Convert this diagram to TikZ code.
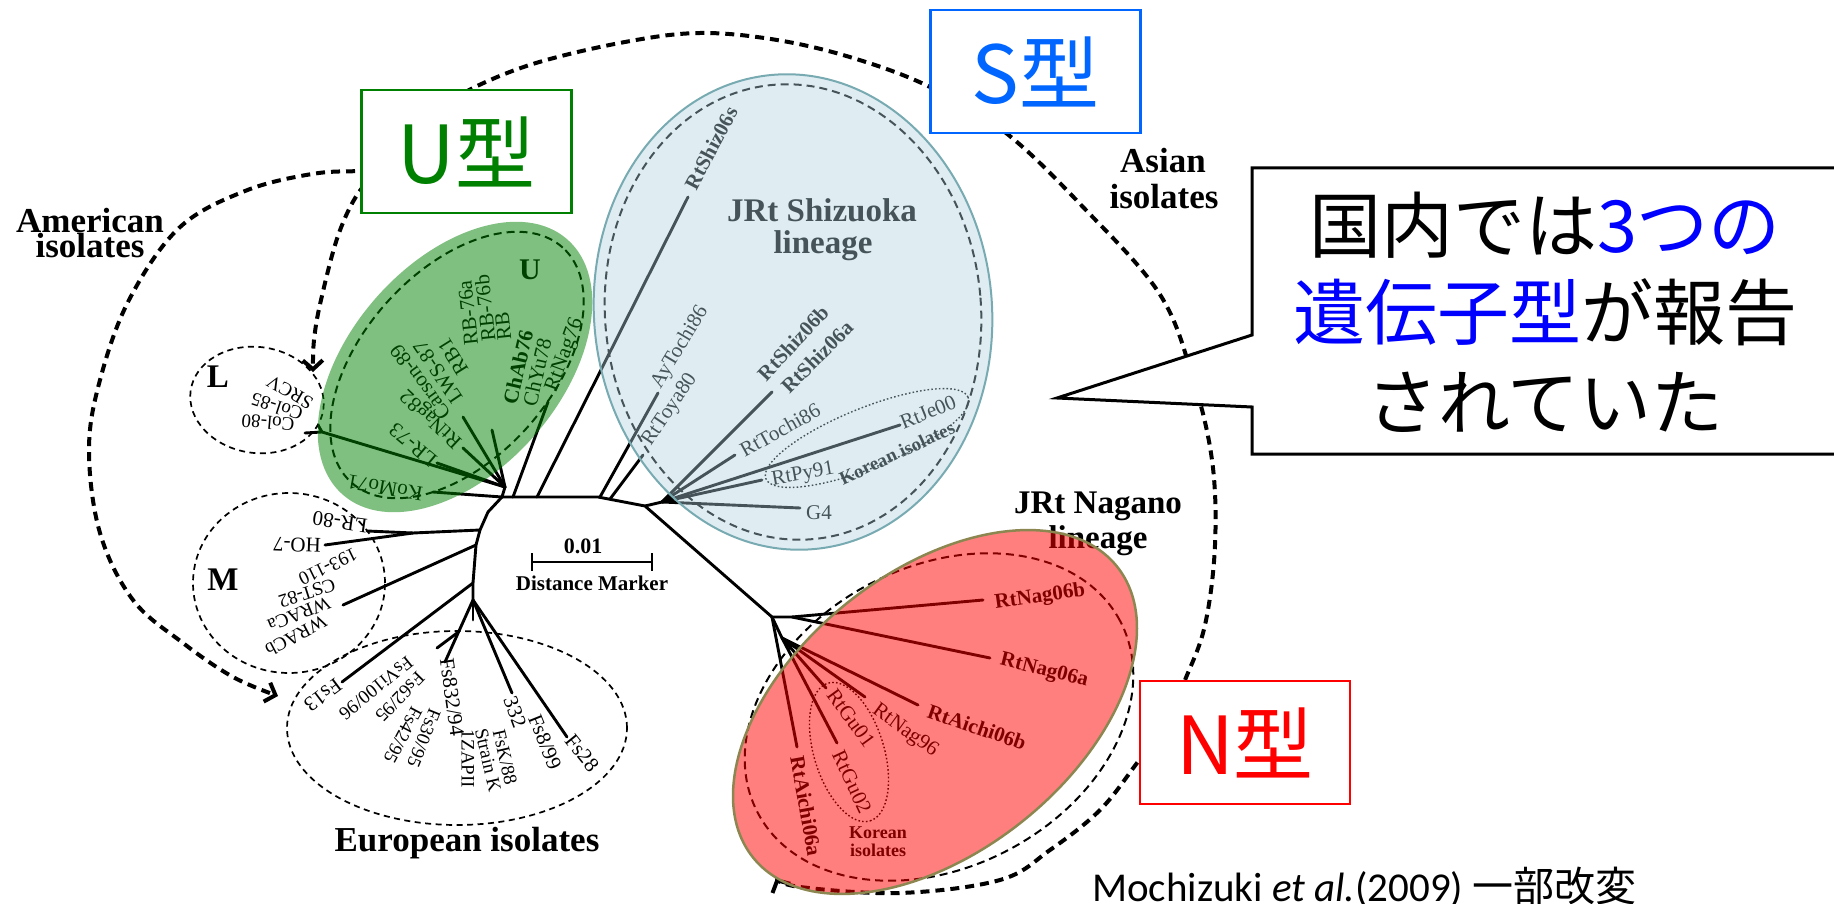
\documentclass[tikz,border=0pt]{standalone}
\usepackage{fontspec}
\setmainfont{Liberation Serif}
\newfontfamily\jpfont{Noto Sans CJK JP}
\newfontfamily\calfont{Carlito}
\usetikzlibrary{arrows.meta}
\definecolor{ugreen}{RGB}{0,128,0}
\definecolor{sblue}{RGB}{0,102,255}
\definecolor{nred}{RGB}{255,0,0}
\definecolor{cblue}{RGB}{0,0,255}
\definecolor{bluefill}{RGB}{175,212,225}
\definecolor{blueedge}{RGB}{120,170,178}
\definecolor{rededge}{RGB}{140,135,80}
\newcommand{\fsz}[1]{\fontsize{#1}{#1}\selectfont}
\begin{document}
\begin{tikzpicture}[x=1pt,y=-1pt,
  br/.style={line width=2.9pt,line cap=round,line join=round},
  lab/.style={inner sep=0pt,font=\fsz{21}},
  blab/.style={inner sep=0pt,font=\fsz{21}\bfseries},
  slab/.style={inner sep=0pt,font=\fsz{19}},
  grp/.style={inner sep=0pt,font=\fsz{35}\bfseries},
  bigdash/.style={line width=4pt,dash pattern=on 9pt off 6pt},
  thindash/.style={line width=1.7pt,dash pattern=on 6pt off 4.5pt},
  innerdash/.style={line width=2pt,dash pattern=on 8pt off 5pt},
  dotline/.style={line width=1.4pt,dash pattern=on 1.6pt off 2.2pt},
  barb/.style={-{Straight Barb[length=9pt,width=20pt]}},
  typebox/.style={draw=#1,line width=2.2pt,fill=white,text=#1,font=\jpfont\fsz{80},inner sep=0pt,minimum width=210pt,minimum height=123pt}
]
\useasboundingbox (0,0) rectangle (1834,904);
\fill[white] (0,0) rectangle (1834,904);

% ---------- big dashed arcs ----------
\draw[bigdash,barb] plot[smooth,tension=0.6] coordinates {(400,170) (362,171) (312,174) (245,191) (179,228) (129,300) (100,380) (89,450) (100,533) (133,600) (183,643) (233,677) (278,696)};
\draw[bigdash,barb] plot[smooth,tension=0.6] coordinates {(390,168) (362,188) (339,233) (321,300) (314,340) (313,372)};
\draw[bigdash,barb] plot[smooth,tension=0.6] coordinates {(440,110) (473,88) (536,63) (625,42) (700,33) (777,40) (853,58) (930,87) (1006,133) (1083,207) (1159,293) (1192,375) (1212,460) (1215,545) (1205,625) (1185,680) (1165,725) (1137,763) (1100,810) (1050,850) (1000,880) (900,893) (800,887) (776,878)};

% ---------- group texts ----------
\node[grp] (amer1) at (90,221) {American};
\node[grp] (amer2) at (90,246) {isolates};
\node[grp] (asia1) at (1163,161) {Asian};
\node[grp] (asia2) at (1164,197) {isolates};
\node[grp] (euro) at (467,843) {European isolates};
\node[grp,font=\fsz{33}\bfseries] (shz1) at (822,210) {JRt Shizuoka};
\node[grp,font=\fsz{33}\bfseries] (shz2) at (823,246) {lineage};
\node[grp,font=\fsz{33}\bfseries] (nag1) at (1098,506) {JRt Nagano};
\node[grp,font=\fsz{33}\bfseries] (nag2) at (1098,541) {lineage};
\node[inner sep=0pt,font=\fsz{33}\bfseries] (Llab) at (218,377) {L};
\node[inner sep=0pt,font=\fsz{33}\bfseries] (Mlab) at (223,580) {M};
\node[inner sep=0pt,font=\fsz{30}\bfseries] (Ulab) at (530,270) {U};

% ---------- group ellipses (original figure) ----------
\draw[thindash,rotate around={-8:(257,400)}] (257,400) ellipse [x radius=67pt,y radius=53pt];
\draw[thindash] (289,583) ellipse [x radius=96pt,y radius=90pt];
\draw[thindash] (457,728) ellipse [x radius=170pt,y radius=97pt];
\draw[innerdash,rotate around={48:(457,365)}] (457,365) ellipse [x radius=158pt,y radius=94pt];
\draw[innerdash,rotate around={5:(793,312)}] (793,312) ellipse [x radius=188pt,y radius=228pt];
\draw[innerdash,rotate around={28:(939,717)}] (939,717) ellipse [x radius=205pt,y radius=150pt];
\draw[dotline,rotate around={22:(867,438)}] (867,438) ellipse [x radius=109pt,y radius=30pt];
\draw[dotline,rotate around={-73:(849,752)}] (849,752) ellipse [x radius=72pt,y radius=35pt];

% ---------- tree coordinates ----------
\coordinate (A) at (502,497);
\coordinate (Un) at (505,487);
\coordinate (T1) at (598,497);
\coordinate (Sn) at (645,506);
\coordinate (Sn2) at (662,502);
\coordinate (Nn) at (772,617);
\coordinate (t1) at (488,512);
\coordinate (t2) at (480,530);
\coordinate (t3) at (476,545);
\coordinate (t4) at (473,583);
\coordinate (E) at (473,600);
\coordinate (Mn) at (413,533);
\coordinate (Ln) at (322,432);
\coordinate (b1) at (513,497);
\coordinate (b2) at (537,497);
\coordinate (b3) at (600,497);
\coordinate (b4) at (610,499);
\coordinate (n1) at (792,617);
\coordinate (n2) at (782,638);
\coordinate (e1) at (457,633);
% tips
\coordinate (kKoMo) at (433,492);
\coordinate (kLR73) at (437,463);
\coordinate (kCol) at (305,433);
\coordinate (kNag82) at (463,448);
\coordinate (kCar) at (463,417);
\coordinate (kRB) at (492,430);
\coordinate (kChAb) at (548,402);
\coordinate (kShs) at (688,197);
\coordinate (kAy) at (658,393);
\coordinate (kToya) at (643,455);
\coordinate (kShab) at (772,392);
\coordinate (kToch) at (735,455);
\coordinate (kJe) at (900,425);
\coordinate (kPy) at (762,480);
\coordinate (kG4) at (800,508);
\coordinate (kN6b) at (983,600);
\coordinate (kN6a) at (990,658);
\coordinate (kA6b) at (918,705);
\coordinate (kN96) at (865,697);
\coordinate (kGu01) at (826,688);
\coordinate (kGu02) at (837,743);
\coordinate (kA6a) at (797,747);
\coordinate (kLR80) at (367,531);
\coordinate (kHO7) at (325,545);
\coordinate (k193) at (343,605);
\coordinate (kFs13) at (342,682);
\coordinate (kFs832) at (445,662);
\coordinate (kFsVi) at (437,648);
\coordinate (kZap) at (473,620);
\coordinate (k332) at (512,693);
\coordinate (kFs28) at (567,737);

% ---------- tree branches ----------
\draw[br] (A) -- (T1) -- (Sn) -- (Nn);
\draw[br] (A) -- (t1) -- (t2) -- (t3) -- (t4) -- (E);
\draw[br] (A) -- (Un);
\draw[br] (A) -- (kKoMo);
\draw[br] (Un) -- (kLR73);
\draw[br] (Un) -- (Ln) -- (kCol);
\draw[br] (Ln) -- ++(-4,-7);
\draw[br] (Un) -- (kNag82);
\draw[br] (Un) -- (kCar);
\draw[br] (Un) -- (kRB);
\draw[br] (b1) -- (kChAb);
\draw[br] (b2) -- (kShs);
\draw[br] (b3) -- (kAy);
\draw[br] (b4) -- (kToya);
\draw[br] (Sn) -- (Sn2);
\draw[br] (Sn2) -- (kShab);
\draw[br] (Sn2) -- (kToch);
\draw[br] (Sn2) -- (kJe);
\draw[br] (Sn2) -- (kPy);
\draw[br] (Sn2) -- (kG4);
\draw[br] (Nn) -- (n1) -- (kN6b);
\draw[br] (n1) -- (kN6a);
\draw[br] (Nn) -- (n2) -- (kA6b);
\draw[br] (n2) -- (kN96);
\draw[br] (n2) -- (kGu01);
\draw[br] (n2) -- (kGu02);
\draw[br] (Nn) -- (kA6a);
\draw[br] (t2) -- (Mn) -- (kLR80);
\draw[br] (Mn) -- (kHO7);
\draw[br] (t3) -- (k193);
\draw[br] (t4) -- (kFs13);
\draw[br] (E) -- (kFs832);
\draw[br] (e1) -- (kFsVi);
\draw[br] (E) -- (kZap);
\draw[br] (E) -- (k332);
\draw[br] (E) -- (kFs28);

% scale bar
\coordinate (sb1) at (532,562);
\coordinate (sb2) at (652,562);
\draw[line width=2.5pt] (sb1) -- (sb2);
\draw[line width=2.5pt] (532,553) -- (532,571);
\draw[line width=2.5pt] (652,553) -- (652,571);
\node[blab,font=\fsz{22}\bfseries] (sbv) at (583,546) {0.01};
\node[blab,font=\fsz{21}\bfseries] (sbt) at (592,583) {Distance Marker};

% ---------- labels ----------
% U group
\node[lab,rotate=96] (lrb76a) at (468,313) {RB-76a};
\node[lab,rotate=96] (lrb76b) at (485,308) {RB-76b};
\node[lab,rotate=96] (lrb) at (503,326) {RB};
\node[lab,rotate=122] (lrb1) at (453,357) {RB1};
\node[lab,rotate=124] (llws) at (438,372) {LWS-87};
\node[lab,rotate=126] (lcar) at (420,382) {Carson-89};
\node[lab,rotate=137] (lnag82) at (432,418) {RtNag82};
\node[lab,rotate=140] (llr73) at (413,445) {LR-73};
\node[lab,rotate=170] (lkomo) at (385,488) {KoMo71};
\node[blab,rotate=77] (lchab) at (518,367) {ChAb76};
\node[lab,rotate=77] (lchyu) at (537,372) {ChYu78};
\node[lab,rotate=70] (lnag76) at (565,355) {RtNag76};
% L group
\node[slab,rotate=175] (lcol80) at (268,423) {Col-80};
\node[slab,rotate=162] (lcol85) at (277,407) {Col-85};
\node[slab,rotate=150] (lsrcv) at (290,392) {SRCV};
% M group
\node[lab,rotate=172] (llr80) at (340,522) {LR-80};
\node[lab,rotate=178] (lho7) at (297,545) {HO-7};
\node[slab,rotate=206] (l193) at (328,567) {193-110};
\node[slab,rotate=198] (lcst) at (307,593) {CST-82};
\node[slab,rotate=202] (lwra) at (299,614) {WRACa};
\node[slab,rotate=208] (lwrb) at (296,636) {WRACb};
% Europe group
\node[lab,rotate=217] (lfs13) at (323,695) {Fs13};
\node[slab,rotate=219] (lfsvi) at (376,688) {FsVi100/96};
\node[slab,rotate=226] (lfs62) at (400,697) {Fs62/95};
\node[slab,rotate=242] (lfs42) at (403,735) {Fs42/95};
\node[slab,rotate=248] (lfs30) at (424,738) {Fs30/95};
\node[lab,rotate=278] (lfs832) at (452,697) {Fs832/94};
\node[slab,rotate=270] (lzap) at (468,759) {1ZAPII};
\node[slab,rotate=283] (lstk) at (488,760) {Strain K};
\node[slab,rotate=283] (lfsk) at (505,757) {FsK/88};
\node[lab,rotate=290] (l332) at (515,712) {332};
\node[lab,rotate=292] (lfs8) at (545,742) {Fs8/99};
\node[lab,rotate=309] (lfs28) at (582,753) {Fs28};
% S group
\node[blab,rotate=62] (lshs) at (711,148) {RtShiz06s};
\node[lab,rotate=59] (lay) at (680,347) {AyTochi86};
\node[lab,rotate=56] (ltoya) at (670,410) {RtToya80};
\node[blab,rotate=47] (lsh6b) at (793,343) {RtShiz06b};
\node[blab,rotate=45] (lsh6a) at (817,357) {RtShiz06a};
\node[lab,rotate=29] (ltoch) at (780,430) {RtTochi86};
\node[lab,rotate=22] (lje) at (928,412) {RtJe00};
\node[blab,rotate=25,font=\fsz{19}\bfseries] (lkor1) at (897,453) {Korean isolates};
\node[lab,rotate=10] (lpy) at (803,475) {RtPy91};
\node[lab] (lg4) at (819,513) {G4};
% N group
\node[blab,rotate=8] (ln6b) at (1040,597) {RtNag06b};
\node[blab,rotate=-14] (ln6a) at (1044,671) {RtNag06a};
\node[blab,rotate=-19] (la6b) at (977,727) {RtAichi06b};
\node[lab,rotate=-36] (ln96) at (905,731) {RtNag96};
\node[lab,rotate=-54] (lgu01) at (851,718) {RtGu01};
\node[lab,rotate=-65] (lgu02) at (852,782) {RtGu02};
\node[blab,rotate=-80] (la6a) at (806,806) {RtAichi06a};
\node[blab,font=\fsz{18}\bfseries] (lkor2) at (878,833) {Korean};
\node[blab,font=\fsz{18}\bfseries] (lkor3) at (878,850) {isolates};

% ---------- coloured overlays ----------
\fill[ugreen,opacity=0.5,rotate around={48.6:(455,367)}] (455,367) ellipse [x radius=170pt,y radius=105pt];
\fill[bluefill,opacity=0.4,rotate around={5:(793,312)}] (793,312) ellipse [x radius=199pt,y radius=238pt];
\draw[blueedge,line width=2pt,rotate around={5:(793,312)}] (793,312) ellipse [x radius=199pt,y radius=238pt];
\fill[nred,opacity=0.5,rotate around={38.6:(935,712)}] (935,712) ellipse [x radius=233pt,y radius=140pt];
\draw[rededge,line width=2.5pt,rotate around={38.6:(935,712)}] (935,712) ellipse [x radius=233pt,y radius=140pt];

% ---------- type boxes ----------
\node[typebox=ugreen] (ubox) at (466.5,151.5) {U型};
\node[typebox=sblue] (sbox) at (1035.5,71.5) {S型};
\node[typebox=nred] (nbox) at (1245,742.5) {N型};

% ---------- callout ----------
\coordinate (c1) at (1252,168);
\coordinate (c2) at (1850,168);
\coordinate (c3) at (1850,454);
\coordinate (c4) at (1252,454);
\coordinate (c5) at (1252,407);
\coordinate (c6) at (1057,398);
\coordinate (c7) at (1252,335);
\draw[line width=3pt,fill=white,line join=miter] (c1) -- (c2) -- (c3) -- (c4) -- (c5) -- (c6) -- (c7) -- cycle;
\node[inner sep=0pt,font=\jpfont\fsz{72}] (ct1) at (1545,225) {国内では\textcolor{cblue}{3つの}};
\node[inner sep=0pt,font=\jpfont\fsz{72}] (ct2) at (1545,312) {\textcolor{cblue}{遺伝子型}が報告};
\node[inner sep=0pt,font=\jpfont\fsz{72}] (ct3) at (1545,402) {されていた};

% ---------- citation ----------
\node[anchor=base west,inner sep=0pt,font=\calfont\fsz{41}] (cite) at (1092,901) {Mochizuki \textit{et al.}(2009) {\jpfont 一部改変}};
\end{tikzpicture}
\end{document}
